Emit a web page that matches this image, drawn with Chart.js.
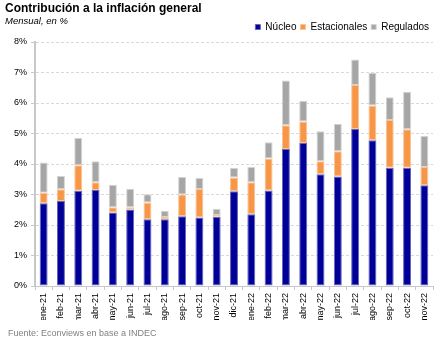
<!DOCTYPE html>
<html lang="es">
<head>
<meta charset="utf-8">
<title>Contribución a la inflación general</title>
<script src="https://cdn.jsdelivr.net/npm/chart.js@4.4.1/dist/chart.umd.min.js"></script>
<style>
  html, body { margin: 0; padding: 0; background: #fff; }
  .wrap { position: relative; width: 443px; height: 340px; overflow: hidden; }
  .wrap canvas { position: absolute; left: 0; top: 0; }
  .title { position: absolute; left: 5px; top: 1px; font: bold 12px "Liberation Sans", Arial, sans-serif; color: #000; }
  .subtitle { position: absolute; left: 5px; top: 15px; font: italic 9.5px "Liberation Sans", Arial, sans-serif; color: #000; }
  .source { position: absolute; left: 8px; top: 328px; font: 9px "Liberation Sans", Arial, sans-serif; color: #808080; }
</style>
</head>
<body>
<div class="wrap">
  <canvas id="inflChart" width="443" height="340"></canvas>
  <div class="title">Contribución a la inflación general</div>
  <div class="subtitle">Mensual, en %</div>
  <div class="source">Fuente: Econviews en base a INDEC</div>
</div>
<script>
  // Meses (ene-21 a nov-22)
  const months = [
    'ene-21', 'feb-21', 'mar-21', 'abr-21', 'may-21', 'jun-21', 'jul-21', 'ago-21',
    'sep-21', 'oct-21', 'nov-21', 'dic-21', 'ene-22', 'feb-22', 'mar-22', 'abr-22',
    'may-22', 'jun-22', 'jul-22', 'ago-22', 'sep-22', 'oct-22', 'nov-22'
  ];

  // Contribución mensual en puntos porcentuales
  const nucleo = [
    2.71, 2.79, 3.12, 3.15, 2.41, 2.51, 2.19, 2.19, 2.29, 2.25, 2.27, 3.11,
    2.35, 3.13, 4.49, 4.69, 3.66, 3.59, 5.15, 4.78, 3.88, 3.88, 3.30
  ];
  const estacionales = [
    0.35, 0.38, 0.84, 0.25, 0.17, 0.07, 0.55, 0.07, 0.71, 0.93, 0.06, 0.45,
    1.05, 1.05, 0.78, 0.70, 0.43, 0.83, 1.44, 1.14, 1.56, 1.26, 0.60
  ];
  const regulados = [
    0.99, 0.44, 0.89, 0.69, 0.74, 0.61, 0.27, 0.21, 0.57, 0.36, 0.20, 0.31,
    0.50, 0.53, 1.47, 0.68, 0.98, 0.90, 0.84, 1.06, 0.75, 1.23, 1.02
  ];

  const yTicks = [0, 1, 2, 3, 4, 5, 6, 7, 8];

  const baseFont = { family: '"Liberation Sans", Arial, sans-serif', size: 9 };

  function barSet(label, data, fill, edge) {
    return {
      label: label,
      data: data,
      backgroundColor: fill,
      borderColor: edge,
      borderWidth: 1,
      borderSkipped: false,
      barPercentage: 0.46,
      categoryPercentage: 1.0
    };
  }

  new Chart(document.getElementById('inflChart'), {
    type: 'bar',
    data: {
      labels: months,
      datasets: [
        barSet('Núcleo', nucleo, '#000099', '#6666bb'),
        barSet('Estacionales', estacionales, '#f79646', '#fbc394'),
        barSet('Regulados', regulados, '#a6a6a6', '#d4d4d4')
      ]
    },
    options: {
      responsive: false,
      animation: false,
      layout: { padding: { top: 18, right: 10, bottom: 20, left: 4 } },
      plugins: {
        title: { display: false },
        tooltip: { enabled: false },
        legend: {
          position: 'top',
          align: 'end',
          labels: {
            boxWidth: 5,
            boxHeight: 5,
            padding: 4,
            color: '#000',
            font: { family: baseFont.family, size: 10 }
          }
        }
      },
      scales: {
        x: {
          stacked: true,
          offset: true,
          grid: {
            display: true,
            offset: true,
            drawOnChartArea: false,
            drawTicks: true,
            tickLength: 4,
            color: '#c8c8c8'
          },
          border: { display: true, color: '#c8c8c8', width: 1 },
          ticks: {
            autoSkip: false,
            minRotation: 90,
            maxRotation: 90,
            padding: 3,
            color: '#000',
            font: baseFont
          },
          afterFit(scale) { scale.height = 34; }
        },
        y: {
          stacked: true,
          min: 0,
          max: 8,
          afterBuildTicks(scale) {
            scale.ticks = yTicks.map(v => ({ value: v }));
          },
          grid: {
            color: '#d9d9d9',
            tickLength: 4,
            tickColor: '#c8c8c8'
          },
          // dash applies to the horizontal gridlines, axis line stays solid
          border: { display: true, color: '#c8c8c8', width: 2, dash: [3, 2] },
          ticks: {
            padding: 4,
            color: '#000',
            font: baseFont,
            callback: v => v + '%'
          },
          afterFit(scale) { scale.width = 31; }
        }
      }
    }
  });
</script>
</body>
</html>
